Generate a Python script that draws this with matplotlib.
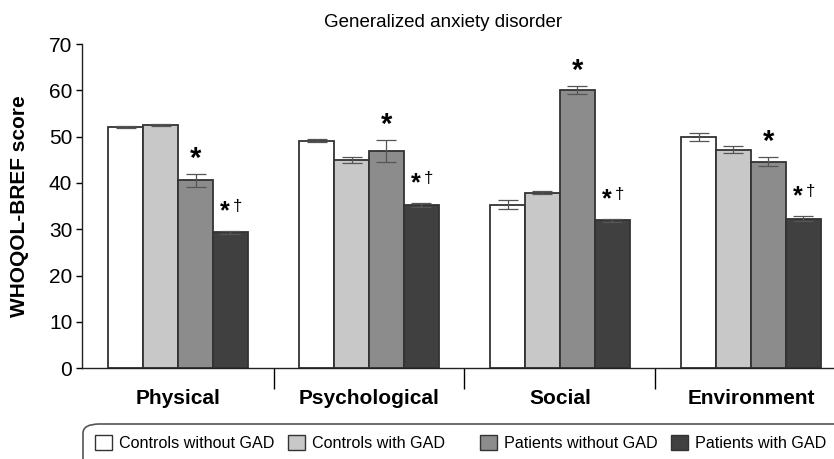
import numpy as np
import matplotlib.pyplot as plt
from matplotlib.patches import FancyBboxPatch, Patch

plt.rcParams['font.family'] = ['Liberation Sans', 'DejaVu Sans']

# WHOQOL-BREF domain scores by group
domains = ['Physical', 'Psychological', 'Social', 'Environment']
groups = ['Controls without GAD', 'Controls with GAD', 'Patients without GAD', 'Patients with GAD']
ctrl_no_gad = [52.1, 49.1, 35.3, 49.9]
ctrl_gad = [52.5, 45.0, 37.9, 47.2]
pat_no_gad = [40.6, 46.9, 60.1, 44.6]
pat_gad = [29.3, 35.3, 31.9, 32.3]

ctrl_no_gad_err = [0.3, 0.3, 1.0, 0.8]
ctrl_gad_err = [0.3, 0.7, 0.3, 0.8]
pat_no_gad_err = [1.4, 2.4, 0.8, 1.0]
pat_gad_err = [0.3, 0.4, 0.4, 0.6]

values = [ctrl_no_gad, ctrl_gad, pat_no_gad, pat_gad]
errors = [ctrl_no_gad_err, ctrl_gad_err, pat_no_gad_err, pat_gad_err]
colors = ['#ffffff', '#c8c8c8', '#8c8c8c', '#404040']

fig = plt.figure(figsize=(8.34, 4.59), dpi=100)
ax = fig.add_axes([0.0983, 0.198, 0.9017, 0.706])

x = np.arange(len(domains))
width = 0.183
offsets = (np.arange(4) - 1.5) * width

for vals, errs, col, off in zip(values, errors, colors, offsets):
    ax.bar(x + off, vals, width, color=col, edgecolor='#333333', linewidth=1.3,
           yerr=errs, capsize=7,
           error_kw=dict(ecolor='#555555', elinewidth=0.9, capthick=0.9))

# significance: * vs controls without GAD, † vs patients without GAD
for i in range(len(domains)):
    top = pat_no_gad[i] + pat_no_gad_err[i]
    ax.text(x[i] + offsets[2], top + 3.2, '*', ha='center', va='center',
            fontsize=21, fontweight='bold')
    top = pat_gad[i] + pat_gad_err[i]
    ax.text(x[i] + offsets[3] - 0.03, top + 4.2, '*', ha='center', va='center',
            fontsize=18, fontweight='bold')
    ax.text(x[i] + offsets[3] + 0.038, top + 5.3, '†', ha='center', va='center',
            fontsize=12)

ax.set_xlim(-0.503, 3.435)
ax.set_ylim(0, 70)
ax.set_yticks(range(0, 71, 10))
ax.tick_params(axis='y', labelsize=15, length=4, width=1, direction='out', pad=3)
ax.set_ylabel('WHOQOL-BREF score', fontsize=15, fontweight='bold', labelpad=14)

# separator ticks between domains, labels at the centres
ax.set_xticks([0.5, 1.5, 2.5])
ax.set_xticklabels([])
ax.tick_params(axis='x', which='major', length=15, width=1, direction='out')
ax.set_xticks(x, minor=True)
ax.set_xticklabels(domains, minor=True, fontsize=15, fontweight='bold')
ax.tick_params(axis='x', which='minor', length=0, pad=15)

for s in ['top', 'right']:
    ax.spines[s].set_visible(False)
for s in ['left', 'bottom']:
    ax.spines[s].set_linewidth(1.0)
    ax.spines[s].set_color('#222222')

ax.set_title('Generalized anxiety disorder', fontsize=13.5, pad=12, x=0.48)

# legend with a rounded frame running off the page, equal-width columns
W, H = fig.get_size_inches() * fig.dpi
frame = FancyBboxPatch((83 / W, (H - 480) / H), 780 / W, 56 / H,
                       boxstyle='round,pad=0,rounding_size=0.02',
                       transform=fig.transFigure, facecolor='white',
                       edgecolor='#555555', linewidth=1.2, clip_on=False)
fig.patches.append(frame)
col_left = [89, 282, 474, 665]
for label, col, xl in zip(groups, colors, col_left):
    h = Patch(facecolor=col, edgecolor='#333333', linewidth=1.0)
    fig.legend([h], [label], loc='center left', bbox_to_anchor=(xl / W, 1 - 443 / H),
               frameon=False, fontsize=11.6, handlelength=1.05, handleheight=1.1,
               handletextpad=0.4, borderaxespad=0)

fig.savefig('out.png', dpi=100)
